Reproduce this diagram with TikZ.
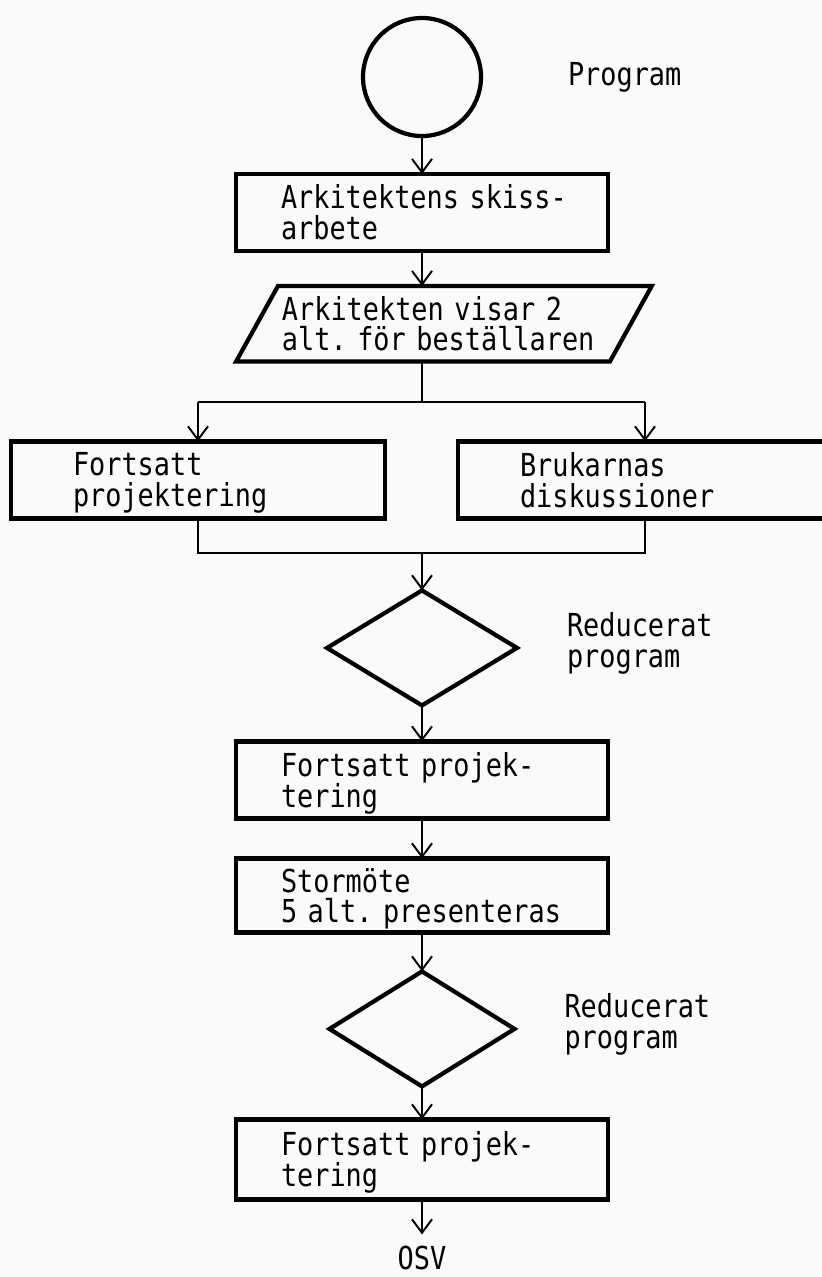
\documentclass[tikz,border=0pt]{standalone}
\usepackage{fontspec}
\setmonofont[FakeStretch=0.85]{DejaVu Sans Mono}
\usepackage{tikz}
\usetikzlibrary{positioning,shapes,calc}
\usetikzlibrary{arrows.meta}
\newcommand{\chartfont}{\ttfamily\fontsize{18}{17.6}\selectfont}
\newcommand{\chartfonttight}{\ttfamily\fontsize{18}{17}\selectfont}
\tikzstyle{start} = [circle, draw, line width=2.4pt, outer sep=0pt, minimum size=2.36cm, inner sep=0pt]
\tikzstyle{process} = [rectangle, draw, line width=2.4pt, outer sep=0pt, minimum width=7.44cm, minimum height=1.54cm, inner xsep=0.9cm, inner ysep=0.1cm, text width=5.64cm, align=left, font=\chartfont]
\tikzstyle{process_tight} = [process, font=\chartfonttight]
\tikzstyle{process_side} = [process, minimum width=7.48cm, inner xsep=1.24cm, text width=5cm]
\tikzstyle{io} = [trapezium, trapezium left angle=61, trapezium right angle=119, draw, line width=2.4pt, outer sep=0pt, minimum height=1.5cm, inner xsep=0.08cm, inner ysep=0.2cm, text width=6.48cm, align=left, font=\chartfont]
\tikzstyle{decision} = [diamond, draw, line width=2.4pt, outer sep=0pt, minimum width=3.8cm, minimum height=2.3cm, inner sep=0pt]
\tikzstyle{note} = [inner sep=0pt, outer sep=0pt, align=left, font=\chartfont]
\tikzstyle{arrow_flow} = [-{Straight Barb[length=0.27cm,width=0.4cm]}, line width=1.1pt]
\tikzstyle{line_flow} = [-, line width=1.1pt]

\begin{document}
\begin{tikzpicture}
      \fill[black!2] (0,0) rectangle (16.42,-25.54);
      \useasboundingbox (0,0) rectangle (16.42,-25.54);

      \node[start] (program) at (8.44,-1.54) {};
      \node[note, right=1.74cm of program] (program_label) {Program};
      \node[process, below=0.76cm of program] (sketch) {Arkitektens~skiss-\\arbete};
      \node[io, below=0.7cm of sketch, xshift=0.44cm] (show) {Arkitekten visar 2\\alt.~för~beställaren};
      \coordinate (fork) at ($(sketch.south |- show.south)+(0,-0.82)$);

      % Parallel work
      \node[process_side, below=0.78cm of fork, xshift=-4.48cm] (continue) {Fortsatt\\\smash{projektering}};
      \node[process_side, below=0.78cm of fork, xshift=4.46cm] (users) {Brukarnas\\diskussioner};
      \coordinate (join) at ($(continue.south -| fork)+(0,-0.7)$);

      \node[decision, below=0.74cm of join] (reduce1) {};
      \node[note, right=1cm of reduce1, yshift=0.15cm] (reduce1_label) {Reducerat\\\smash{program}};
      \node[process, below=0.72cm of reduce1] (continue2) {Fortsatt projek-\\\smash{tering}};
      \node[process_tight, below=0.8cm of continue2, minimum height=1.48cm] (meeting) {Stormöte\\\smash{5~alt.~presenteras}};
      \node[decision, below=0.78cm of meeting, minimum width=3.7cm] (reduce2) {};
      \node[note, right=1cm of reduce2, yshift=0.15cm] (reduce2_label) {Reducerat\\\smash{program}};
      \node[process, below=0.66cm of reduce2, minimum height=1.6cm] (continue3) {Fortsatt projek-\\\smash{tering}};
      \node[below=0.7cm of continue3, inner sep=0.24cm, outer sep=0pt, font=\chartfont] (osv) {OSV};

      % Flow arrows
      \draw[arrow_flow] (program) -- (sketch);
      \draw[arrow_flow] (sketch.south) -- (sketch.south |- show.north);
      \draw[line_flow] (sketch.south |- show.south) -- (fork);
      \draw[line_flow] (continue.north |- fork) -- (users.north |- fork);
      \draw[arrow_flow] (continue.north |- fork) -- (continue.north);
      \draw[arrow_flow] (users.north |- fork) -- (users.north);
      \draw[line_flow] (continue.south) |- (join) -| (users.south);
      \draw[arrow_flow] (join) -- (reduce1);
      \draw[arrow_flow] (reduce1) -- (continue2);
      \draw[arrow_flow] (continue2) -- (meeting);
      \draw[arrow_flow] (meeting) -- (reduce2);
      \draw[arrow_flow] (reduce2) -- (continue3);
      \draw[arrow_flow] (continue3) -- (osv);

\end{tikzpicture}
\end{document}
